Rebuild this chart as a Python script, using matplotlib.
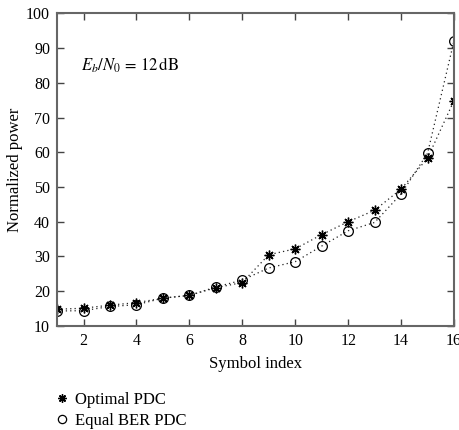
import matplotlib
matplotlib.use("Agg")
from matplotlib import pyplot as plt

# normalized power per symbol, Eb/N0 = 12 dB
symbol = list(range(1, 17))
optimal_pdc = [14.8, 15.1, 16.0, 16.7, 18.0, 18.8, 21.0, 22.5,
               30.5, 32.2, 36.3, 40.0, 43.3, 49.4, 58.3, 74.9]
equal_ber_pdc = [14.3, 14.4, 15.6, 16.1, 18.0, 18.8, 21.2, 23.2,
                 26.7, 28.5, 33.0, 37.4, 39.8, 48.0, 59.7, 92.1]

plt.rcParams['font.family'] = ['Liberation Serif', 'DejaVu Serif']
plt.rcParams['mathtext.fontset'] = 'stix'
plt.rcParams['font.size'] = 11.5

fig = plt.figure(figsize=(4.6, 4.3), dpi=100)
ax = fig.add_axes([0.124, 0.242, 0.863, 0.727])

ax.plot(symbol, optimal_pdc, color='#222222', lw=0.9, ls=(0, (1, 2.5)),
        marker=(8, 2, 0), ms=7, mew=1.0, mec='black', label='Optimal PDC')
ax.plot(symbol, equal_ber_pdc, color='#222222', lw=0.9, ls=(0, (1, 2.5)),
        marker='o', ms=7, mfc='none', mec='black', mew=0.9, label='Equal BER PDC')

ax.text(1.9, 85, r'$E_b/N_0\,=\,12\,\mathrm{dB}$', fontsize=12, va='center')

ax.set_xlim(1, 16)
ax.set_ylim(10, 100)
ax.set_xticks([2, 4, 6, 8, 10, 12, 14, 16])
ax.set_yticks(range(10, 101, 10))
ax.tick_params(direction='in', top=True, right=True, length=5, width=1,
               color='#444444', pad=5)
for s in ax.spines.values():
    s.set_color('#666666')
    s.set_linewidth(1.5)

ax.set_xlabel('Symbol index', fontsize=12, labelpad=5)
ax.set_ylabel('Normalized power', fontsize=12, labelpad=2)

leg = fig.legend(loc='upper left', bbox_to_anchor=(0.12, 0.105), frameon=False,
                 handlelength=0, handletextpad=0.8, fontsize=12, labelspacing=0.3,
                 borderaxespad=0, markerscale=0.85)

fig.savefig('out.png', dpi=100)
